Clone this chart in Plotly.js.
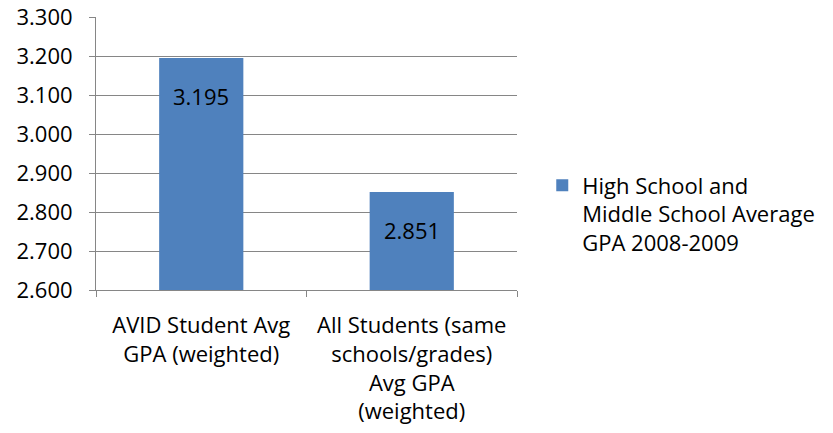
<!DOCTYPE html>
<html>
<head>
<meta charset="utf-8">
<script src="https://cdn.plot.ly/plotly-3.0.1.min.js"></script>
<style>html,body{margin:0;padding:0;background:#fff;}#chart{width:833px;height:433px;}</style>
</head>
<body>
<div id="chart"></div>
<script>
const categories = ["AVID Student Avg<br>GPA (weighted)", "All Students (same<br>schools/grades)<br>Avg GPA<br>(weighted)"];
const values = [3.195, 2.851];
const valueLabels = ["3.195", "2.851"];
const seriesName = "High School and<br>Middle School Average<br>GPA 2008-2009";
const yTicks = [2.6, 2.7, 2.8, 2.9, 3.0, 3.1, 3.2, 3.3];

const FONT = "Open Sans, Liberation Sans, sans-serif";
const trace = {
  type: "bar",
  x: categories,
  y: values,
  name: seriesName,
  marker: {color: "#4F81BD"},
  width: 0.4,
  showlegend: true,
  hoverinfo: "none"
};

const annotations = categories.map((c, i) => ({
  x: c, y: values[i], xref: "x", yref: "y",
  text: valueLabels[i], showarrow: false,
  yanchor: "middle", yshift: -38,
  font: {family: FONT, size: 22, color: "#000"}
}));

const layout = {
  width: 833, height: 433,
  margin: {l: 96, r: 316, t: 17, b: 143},
  paper_bgcolor: "#fff", plot_bgcolor: "#fff",
  font: {family: FONT, size: 22, color: "#000"},
  showlegend: true,
  legend: {x: 1.06, xanchor: "left", y: 0.46, yanchor: "top", valign: "top",
           font: {family: FONT, size: 22, color: "#000"}, itemwidth: 30, tracegroupgap: 0},
  bargap: 0.6,
  xaxis: {
    type: "category",
    showline: true, linecolor: "#868686", linewidth: 1,
    ticks: "outside", tickson: "boundaries", ticklen: 6, tickcolor: "#868686",
    ticklabelstandoff: 16,
    showgrid: false, tickfont: {family: FONT, size: 22, color: "#000"},
    automargin: false
  },
  yaxis: {
    range: [2.6, 3.3],
    tickvals: yTicks, tickformat: ".3f",
    showline: true, linecolor: "#868686", linewidth: 1,
    ticks: "outside", ticklen: 6, tickcolor: "#868686",
    ticklabelstandoff: 12,
    showgrid: true, gridcolor: "#868686", gridwidth: 1,
    zeroline: false,
    tickfont: {family: FONT, size: 22, color: "#000"},
    automargin: false
  },
  annotations: annotations
};

Plotly.newPlot("chart", [trace], layout, {staticPlot: true, displayModeBar: false});
</script>
</body>
</html>
